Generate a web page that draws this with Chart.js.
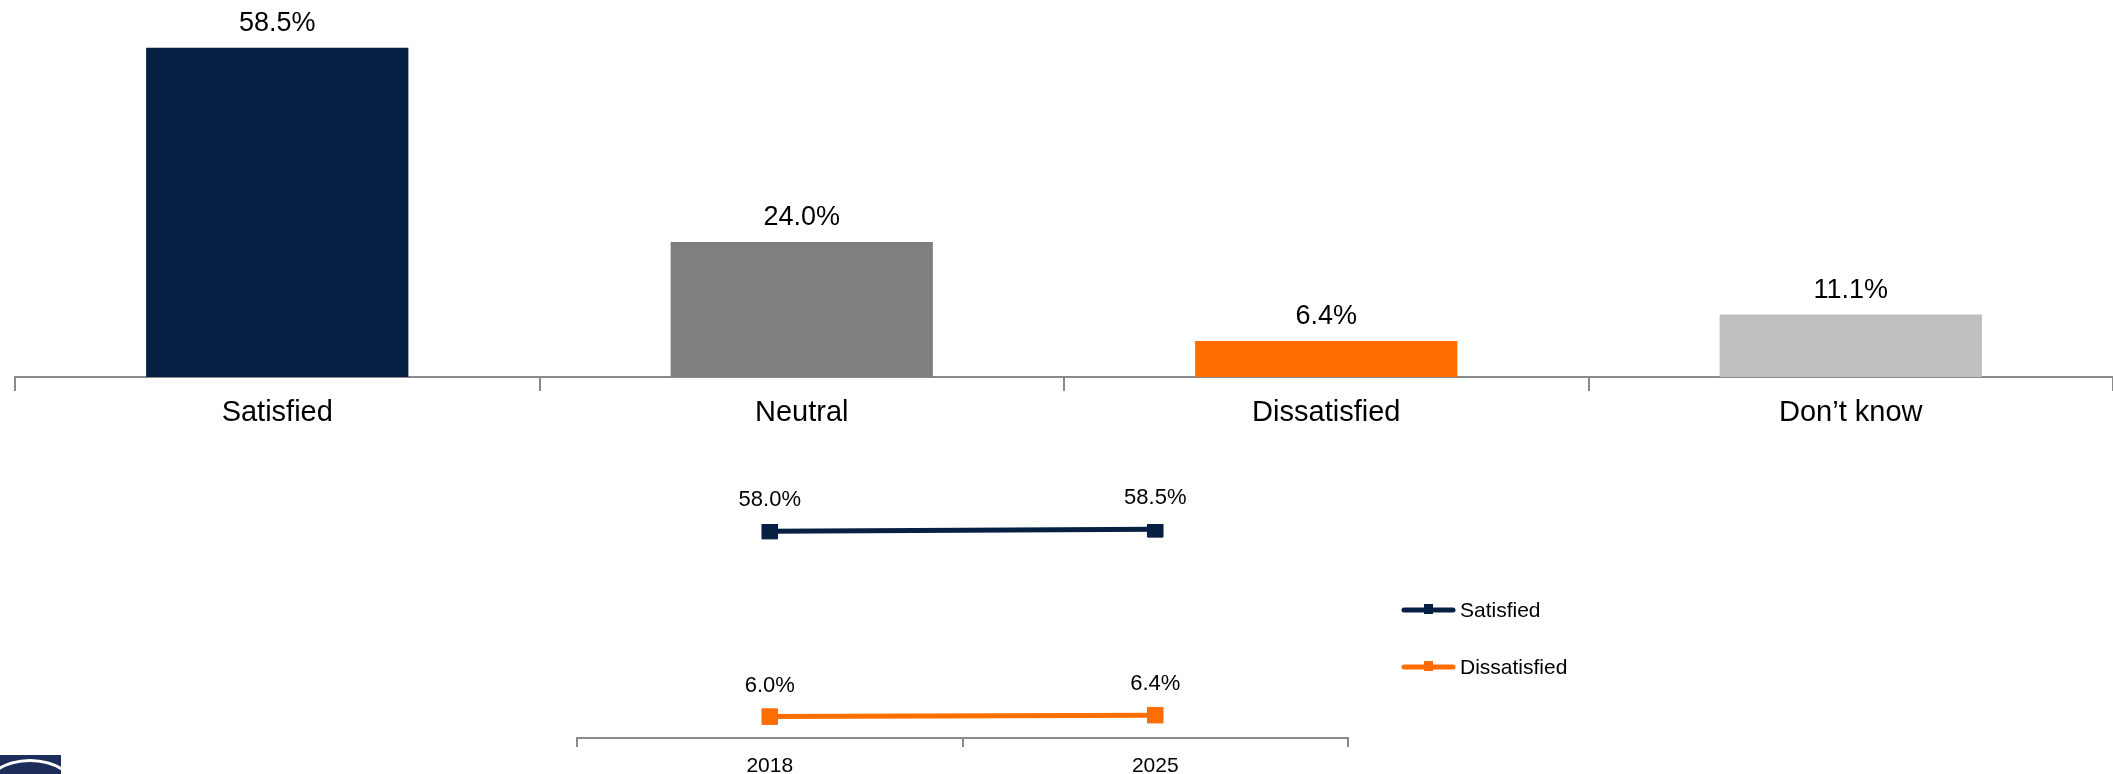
<!DOCTYPE html>
<html>
<head>
<meta charset="utf-8">
<script src="https://cdn.jsdelivr.net/npm/chart.js@4.4.0/dist/chart.umd.min.js"></script>
<style>
  body { margin: 0; background: #fff; width: 2113px; height: 774px; overflow: hidden; position: relative; font-family: "Liberation Sans", Arial, sans-serif; }
  #barWrap { position: absolute; left: 0; top: 0; width: 2113px; height: 440px; }
  #lineWrap { position: absolute; left: 500px; top: 450px; width: 1200px; height: 324px; }
  #logo { position: absolute; left: 0; top: 755px; width: 61px; height: 19px; background: #1c2d5a; overflow: hidden; }
  #logo div { position: absolute; left: -18px; top: 4px; width: 90px; height: 60px; border-radius: 50%; border: 3px solid #fff; }
</style>
</head>
<body>
<div id="barWrap"><canvas id="barChart"></canvas></div>
<div id="lineWrap"><canvas id="lineChart"></canvas></div>
<div id="logo"><div></div></div>
<script>
const categories = ["Satisfied", "Neutral", "Dissatisfied", "Don\u2019t know"];
const shares = [58.5, 24.0, 6.4, 11.1];
const barColors = ["#061f42", "#7f7f7f", "#ff6d00", "#bfbfbf"];

const years = ["2018", "2025"];
const satisfied = [58.0, 58.5];
const dissatisfied = [6.0, 6.4];

const fontFamily = '"Liberation Sans", Arial, sans-serif';

// value labels above bars / points
const valueLabels = {
  id: "valueLabels",
  afterDatasetsDraw(chart, args, opts) {
    const ctx = chart.ctx;
    ctx.save();
    ctx.font = opts.size + "px " + fontFamily;
    ctx.fillStyle = "#000";
    ctx.textAlign = "center";
    ctx.textBaseline = "middle";
    chart.data.datasets.forEach((ds, i) => {
      chart.getDatasetMeta(i).data.forEach((el, j) => {
        ctx.fillText(ds.data[j].toFixed(1) + "%", el.x, el.y - opts.gap);
      });
    });
    ctx.restore();
  }
};

// legend drawn to the right of the line chart
const sideLegend = {
  id: "sideLegend",
  afterDraw(chart) {
    const ctx = chart.ctx;
    const rows = [160, 217];
    ctx.save();
    chart.data.datasets.forEach((ds, i) => {
      const y = rows[i];
      ctx.strokeStyle = ds.borderColor;
      ctx.lineWidth = 5;
      ctx.lineCap = "round";
      ctx.beginPath();
      ctx.moveTo(904, y);
      ctx.lineTo(953, y);
      ctx.stroke();
      ctx.fillStyle = ds.borderColor;
      ctx.fillRect(924, y - 6, 9, 10);
      ctx.fillStyle = "#000";
      ctx.font = "21px " + fontFamily;
      ctx.textBaseline = "middle";
      ctx.textAlign = "left";
      ctx.fillText(ds.label, 960, y + 1);
    });
    ctx.restore();
  }
};

new Chart(document.getElementById("barChart"), {
  type: "bar",
  data: {
    labels: categories,
    datasets: [{
      data: shares,
      backgroundColor: barColors,
      barPercentage: 0.5,
      categoryPercentage: 1.0
    }]
  },
  options: {
    responsive: true,
    maintainAspectRatio: false,
    animation: false,
    layout: { padding: { left: 15, right: 0, top: 0, bottom: 0 } },
    plugins: {
      legend: { display: false },
      tooltip: { enabled: false },
      valueLabels: { size: 27, gap: 24 }
    },
    scales: {
      x: {
        grid: { drawOnChartArea: false, drawTicks: true, tickLength: 14, color: "#8a8a8a", lineWidth: 2, offset: true },
        border: { display: true, color: "#8a8a8a", width: 2 },
        ticks: { color: "#000", padding: 5, font: { size: 29, family: fontFamily } },
        afterFit(scale) { scale.height = 63; }
      },
      y: { display: false, min: 0, max: 67 }
    }
  },
  plugins: [valueLabels]
});

new Chart(document.getElementById("lineChart"), {
  type: "line",
  data: {
    labels: years,
    datasets: [
      {
        label: "Satisfied",
        data: satisfied,
        borderColor: "#061f42",
        backgroundColor: "#061f42",
        borderWidth: 5,
        pointStyle: "rect",
        pointRadius: 11,
        pointBorderWidth: 1
      },
      {
        label: "Dissatisfied",
        data: dissatisfied,
        borderColor: "#ff6d00",
        backgroundColor: "#ff6d00",
        borderWidth: 5,
        pointStyle: "rect",
        pointRadius: 11,
        pointBorderWidth: 1
      }
    ]
  },
  options: {
    responsive: true,
    maintainAspectRatio: false,
    animation: false,
    layout: { padding: { left: 77, right: 352, top: 74, bottom: 0 } },
    plugins: {
      legend: { display: false },
      tooltip: { enabled: false },
      valueLabels: { size: 22, gap: 31 }
    },
    scales: {
      x: {
        offset: true,
        grid: { drawOnChartArea: false, drawTicks: true, tickLength: 9, color: "#8a8a8a", lineWidth: 2, offset: true },
        border: { display: true, color: "#8a8a8a", width: 2 },
        ticks: { color: "#000", padding: 7, font: { size: 21, family: fontFamily } },
        afterFit(scale) { scale.height = 36; }
      },
      y: { display: false, min: 0, max: 60 }
    }
  },
  plugins: [valueLabels, sideLegend]
});
</script>
</body>
</html>
